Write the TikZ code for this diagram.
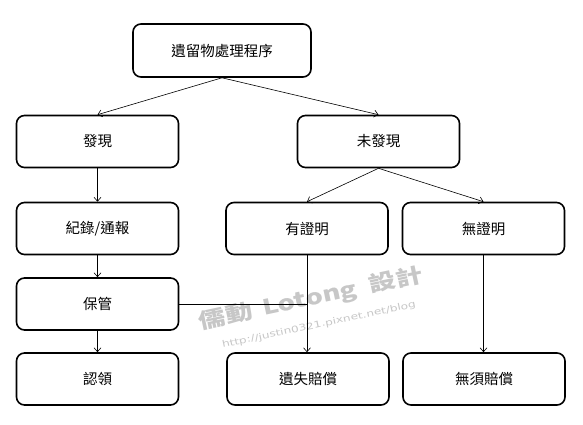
\documentclass[tikz,border=0pt]{standalone}
\usepackage{fontspec}
\setmainfont{Noto Sans CJK TC}
\newfontfamily\wmfont{Noto Sans CJK TC}
\newfontfamily\urlfont{DejaVu Sans}
\usetikzlibrary{arrows.meta}
\begin{document}
\begin{tikzpicture}[x=1pt,y=-1pt,
  box/.style={draw=black,line width=1.6pt,rounded corners=8pt,minimum width=162pt,minimum height=52pt,inner sep=0pt,font=\fontsize{14.5pt}{16pt}\selectfont},
  conn/.style={draw=black,line width=0.6pt,-{Straight Barb[length=4pt,width=7pt]}},
  plain/.style={draw=black,line width=0.6pt},
  wmark/.style={rotate=12,text=black!22,inner sep=0pt}]
\useasboundingbox (0,0) rectangle (583,425);
\fill[white] (0,0) rectangle (583,425);
% watermark
\node[wmark,font=\wmfont\fontsize{21pt}{23pt}\selectfont\bfseries] (wm) at (311,299) {\scalebox{1.3}[1]{儒動\hspace{8pt}Lotong\hspace{10pt}設計}};
\node[wmark,font=\urlfont\fontsize{9pt}{10pt}\selectfont] (wmurl) at (319,325) {\scalebox{1.35}[1]{http://justin0321.pixnet.net/blog}};
% boxes
\node[box,minimum width=178pt,minimum height=53pt] (top) at (222,50.5) {遺留物處理程序};
\node[box] (fx) at (97.5,141.5) {發現};
\node[box] (wfx) at (378.5,141.5) {未發現};
\node[box] (jl) at (97.5,228.5) {紀錄/通報};
\node[box] (yzm) at (307,228.5) {有證明};
\node[box] (wzm) at (483.5,228.5) {無證明};
\node[box] (bg) at (97.5,304) {保管};
\node[box] (rl) at (97.5,379) {認領};
\node[box] (ys) at (308,379) {遺失賠償};
\node[box] (wx) at (484,379) {無須賠償};
% connectors
\draw[conn] (top.south) -- (fx.north);
\draw[conn] (top.south) -- (wfx.north);
\draw[conn] (fx.south) -- (jl.north);
\draw[conn] (jl.south) -- (bg.north);
\draw[conn] (bg.south) -- (rl.north);
\draw[conn] (wfx.south) -- (yzm.north);
\draw[conn] (wfx.south) -- (wzm.north);
\draw[conn] (yzm.south) -- (yzm.south |- ys.north);
\draw[conn] (wzm.south) -- (wzm.south |- wx.north);
\coordinate (jn) at (yzm.south |- bg.east);
\draw[plain] (bg.east) -- (jn);
\end{tikzpicture}
\end{document}
